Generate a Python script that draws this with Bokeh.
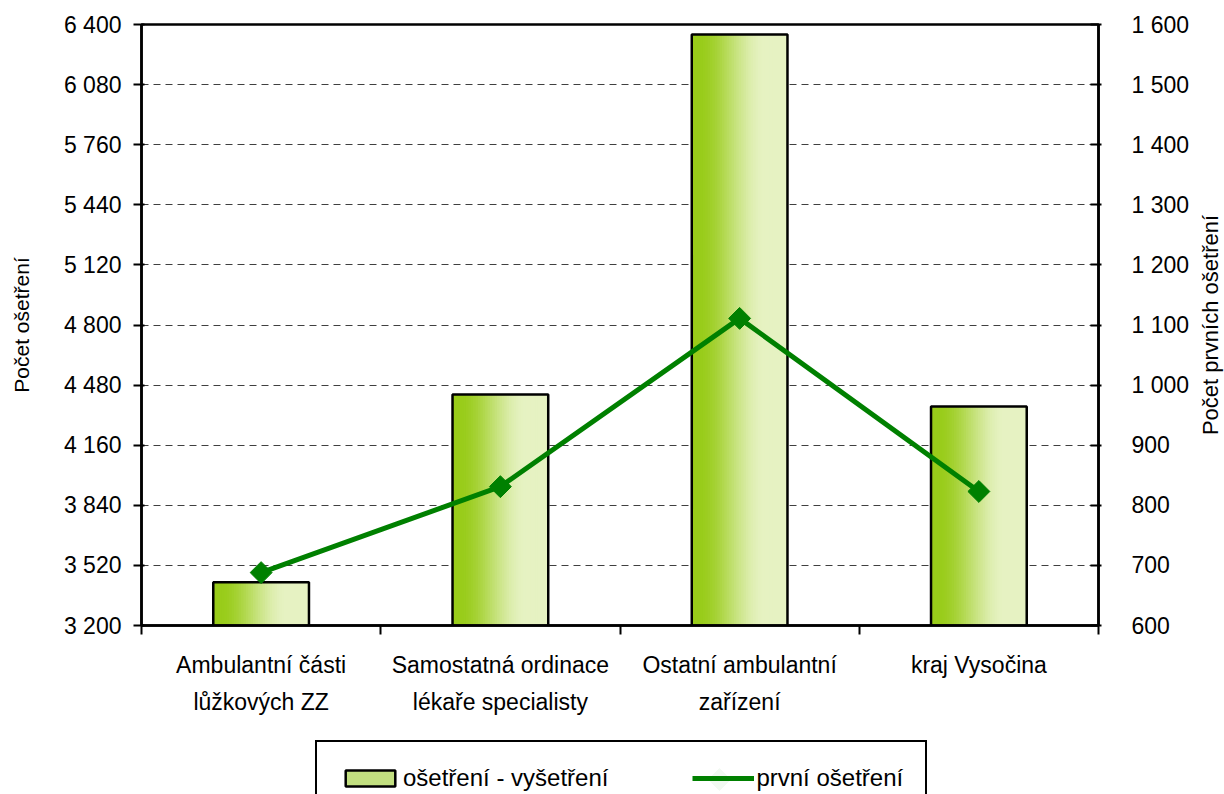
import numpy as np
from bokeh.plotting import figure
from bokeh.layouts import column, row
from bokeh.models import Range1d, LinearAxis, FixedTicker, Legend, LegendItem, Title
from bokeh.embed import file_html
from bokeh.resources import INLINE

# ---- data ----
categories = ["Ambulantní části\nlůžkových ZZ",
              "Samostatná ordinace\nlékaře specialisty",
              "Ostatní ambulantní\nzařízení",
              "kraj Vysočina"]
treatments = [3430, 4430, 6347, 4366]          # ošetření - vyšetření (left axis)
first_treatments = [688, 831, 1111, 823]       # první ošetření (right axis)
left_ticks = list(range(3200, 6401, 320))
right_ticks = list(range(600, 1601, 100))
series_names = ["ošetření - vyšetření", "první ošetření"]
left_title = "Počet ošetření"
right_title = "Počet prvních ošetření"

FONT = "Liberation Sans"
GREEN = "#008000"

def fmt(v):
    return f"{v:,}".replace(",", " ")

n = len(categories)
centers = [i + 0.5 for i in range(n)]

TOP, FRAME_H, BOTTOM = 24, 601, 105

p1 = figure(output_backend="svg", toolbar_location=None,
            frame_width=957, frame_height=FRAME_H,
            x_range=Range1d(0, n), y_range=Range1d(left_ticks[0], left_ticks[-1]),
            min_border_left=141, min_border_right=96, min_border_top=TOP, min_border_bottom=BOTTOM)
p1.extra_y_ranges = {"right": Range1d(right_ticks[0], right_ticks[-1])}

# ---- gradient bars (drawn as thin slices) ----
c0 = np.array([0x99, 0xCC, 0x1A])
c1 = np.array([0xE6, 0xF2, 0xC2])
N = 40
bw = 0.4
for k in range(N):
    t = (k + 0.5) / N
    s = np.clip((t - 0.08) / 0.70, 0, 1)
    s = s * s * (3 - 2 * s)
    col = c0 + (c1 - c0) * s
    color = "#%02x%02x%02x" % tuple(int(round(v)) for v in col)
    xs = [c - bw / 2 + (k + 0.5) * bw / N for c in centers]
    w = bw / N * (1.0 if k in (0, N - 1) else 1.8)
    p1.vbar(x=xs, top=treatments, bottom=left_ticks[0], width=w,
            fill_color=color, line_color=None)
p1.vbar(x=centers, top=treatments, bottom=left_ticks[0], width=bw,
        fill_color=None, line_color="black", line_width=2.5)

# ---- line ----
p1.line(centers, first_treatments, y_range_name="right", line_color=GREEN, line_width=5)
p1.scatter(centers, first_treatments, y_range_name="right", marker="square", angle=np.pi / 4,
           size=15.5, fill_color=GREEN, line_color=GREEN)

# ---- axes ----
p1.xaxis.ticker = FixedTicker(ticks=centers, minor_ticks=list(range(n + 1)))
p1.xaxis.major_label_overrides = {c: lab for c, lab in zip(centers, categories)}
p1.xaxis.major_tick_out = 0
p1.xaxis.major_tick_in = 0
p1.xaxis.minor_tick_out = 9
p1.xaxis.minor_tick_in = 0
p1.xaxis.minor_tick_line_width = 2
p1.xaxis.minor_tick_line_color = "black"
p1.xaxis.axis_line_width = 2.5
p1.xaxis.major_label_text_font = FONT
p1.xaxis.major_label_text_font_size = "23px"
p1.xaxis.major_label_text_color = "black"
p1.xaxis.major_label_text_line_height = 1.45
p1.xaxis.major_label_standoff = 17

p1.yaxis.ticker = FixedTicker(ticks=left_ticks, minor_ticks=[])
p1.yaxis.major_label_overrides = {v: fmt(v) for v in left_ticks}
p1.yaxis.axis_label = left_title

ax_r = LinearAxis(y_range_name="right", ticker=FixedTicker(ticks=right_ticks, minor_ticks=[]))
ax_r.major_label_overrides = {v: fmt(v) for v in right_ticks}
p1.add_layout(ax_r, "right")

for ax in (p1.yaxis[0], ax_r):
    ax.axis_line_width = 2.5
    ax.major_tick_line_width = 2
    ax.major_label_text_font = FONT
    ax.major_label_text_font_size = "23px"
    ax.major_label_text_color = "black"
p1.yaxis[0].major_tick_out = 8
p1.yaxis[0].major_tick_in = 3
p1.yaxis[0].major_label_standoff = 12
p1.yaxis[0].axis_label_standoff = 28
p1.yaxis[0].axis_label_text_font = FONT
p1.yaxis[0].axis_label_text_font_size = "21px"
p1.yaxis[0].axis_label_text_font_style = "normal"
p1.yaxis[0].axis_label_text_color = "black"
ax_r.major_tick_out = 3
ax_r.major_tick_in = 8
ax_r.major_label_standoff = 30

p1.xgrid.grid_line_color = None
p1.ygrid.ticker = FixedTicker(ticks=left_ticks)
p1.ygrid.grid_line_color = "#404040"
p1.ygrid.grid_line_dash = "7 5"
p1.ygrid.grid_line_width = 1.2

p1.outline_line_color = "black"
p1.outline_line_width = 2.5

# ---- right axis title: narrow strip (reads bottom-to-top, centred on the frame) ----
p3 = figure(output_backend="svg", toolbar_location=None, frame_width=1, frame_height=FRAME_H,
            min_border_left=0, min_border_right=0, min_border_top=TOP, min_border_bottom=BOTTOM,
            x_range=Range1d(0, 1), y_range=Range1d(0, 1))
p3.axis.visible = False
p3.grid.visible = False
p3.outline_line_color = None
p3.add_layout(Title(text=right_title, align="center", text_font=FONT, text_font_size="22px",
                    text_font_style="normal", text_color="black", standoff=2), "left")

# ---- legend (separate strip below the chart, frame aligned with chart) ----
LEG_H = 64
PAD = 22
GW, GH = 62, 20
LEG_X = 174
p2 = figure(output_backend="svg", toolbar_location=None, width=1222, height=LEG_H,
            min_border_left=141, min_border_right=124, min_border_top=0, min_border_bottom=0,
            x_range=Range1d(0, 957), y_range=Range1d(0, LEG_H))
p2.axis.visible = False
p2.grid.visible = False
p2.outline_line_color = None
leg_bar = p2.vbar(x=[0], top=[1], width=1, fill_color="#c2df80",
                  line_color="black", line_width=2.5, visible=False)
leg_line = p2.line([0, 1], [0, 0], line_color=GREEN, line_width=5, visible=False)
legend = Legend(items=[LegendItem(label=series_names[0], renderers=[leg_bar]),
                       LegendItem(label=series_names[1], renderers=[leg_line])],
                orientation="horizontal", location=(LEG_X, -22))
legend.label_text_font = FONT
legend.label_text_font_size = "24px"
legend.label_text_color = "black"
legend.border_line_color = "black"
legend.border_line_width = 2
legend.border_line_alpha = 1
legend.spacing = 84
legend.margin = 0
legend.glyph_width = GW
legend.glyph_height = GH
legend.label_standoff = 2
legend.padding = PAD
p2.add_layout(legend, "center")
# diamond marker on the legend's line sample
lx = LEG_X + PAD + GW + 2 + 203 + 84 + GW / 2
ly = 15
p2.scatter([lx], [ly], marker="square", angle=np.pi / 4, size=15.5,
           fill_color=GREEN, line_color=GREEN, level="overlay")

layout = column(row(p1, p3, spacing=0), p2, spacing=0)
open("out.html", "w").write(file_html(layout, INLINE))
